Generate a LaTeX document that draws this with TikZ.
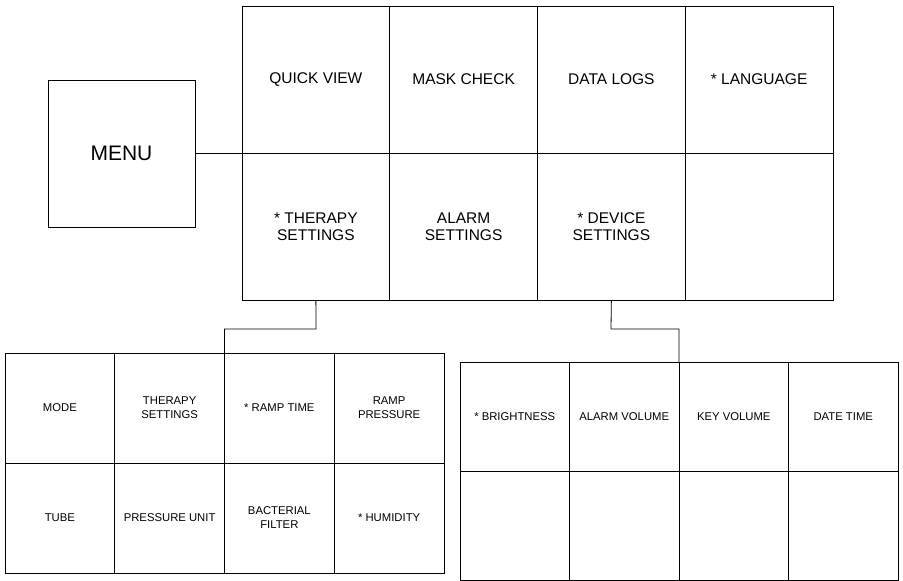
\documentclass[tikz,border=0pt]{standalone}
\usepackage{fontspec}
\setmainfont{Liberation Sans}
\tikzset{
  menubox/.style={draw, anchor=north west, minimum width=147pt, minimum height=147pt, inner sep=0pt, outer sep=0pt, font=\fontsize{21}{24}\selectfont},
  topcell/.style={draw, anchor=north west, minimum width=147.75pt, minimum height=147pt, inner sep=0pt, outer sep=0pt, align=center, font=\fontsize{15.5}{17.5}\selectfont},
  subcell/.style={draw, anchor=north west, minimum width=109.75pt, minimum height=110pt, inner sep=0pt, outer sep=0pt, align=center, font=\fontsize{11.3}{14}\selectfont},
  devcell/.style={subcell, minimum width=109.5pt, minimum height=109pt},
  link/.style={line width=0.8pt}
}
\begin{document}
\begin{tikzpicture}[x=1pt, y=-1pt, line width=0.95pt]
  \useasboundingbox (0,0) rectangle (903,581);
  \node[menubox] (menu) at (48,80) {MENU};
  % main menu grid
  \node[topcell] (qview) at (242,6) {QUICK VIEW};
  \node[topcell] (mask) at (389.75,6) {MASK CHECK};
  \node[topcell] (logs) at (537.5,6) {DATA LOGS};
  \node[topcell] (lang) at (685.25,6) {* LANGUAGE};
  \node[topcell] (therapy) at (242,153) {* THERAPY\\SETTINGS};
  \node[topcell] (alarm) at (389.75,153) {ALARM\\SETTINGS};
  \node[topcell] (device) at (537.5,153) {* DEVICE\\SETTINGS};
  \node[topcell] (spare) at (685.25,153) {};
  % therapy sub menu
  \node[subcell] (mode) at (5,353) {MODE};
  \node[subcell] (tset) at (114.75,353) {THERAPY\\SETTINGS};
  \node[subcell] (ramp) at (224.5,353) {* RAMP TIME};
  \node[subcell] (rpress) at (334.25,353) {RAMP\\PRESSURE};
  \node[subcell] (tube) at (5,463) {TUBE};
  \node[subcell] (punit) at (114.75,463) {PRESSURE UNIT};
  \node[subcell] (filter) at (224.5,463) {BACTERIAL\\FILTER};
  \node[subcell] (humid) at (334.25,463) {* HUMIDITY};
  % device sub menu
  \node[devcell] (bright) at (460,362) {* BRIGHTNESS};
  \node[devcell] (avol) at (569.5,362) {ALARM VOLUME};
  \node[devcell] (kvol) at (679,362) {KEY VOLUME};
  \node[devcell] (dtime) at (788.5,362) {DATE TIME};
  \node[devcell] (dempty1) at (460,471) {};
  \node[devcell] (dempty2) at (569.5,471) {};
  \node[devcell] (dempty3) at (679,471) {};
  \node[devcell] (dempty4) at (788.5,471) {};
  % links
  \coordinate (tbend) at (316,329);
  \coordinate (dbend) at (611,329);
  \draw[link] (menu.east) -- (menu.east -| therapy.west);
  \draw[link] (therapy.south) -- (tbend) -| (ramp.north west);
  \draw[link] (device.south) -- (dbend) -| (kvol.north west);
\end{tikzpicture}
\end{document}
